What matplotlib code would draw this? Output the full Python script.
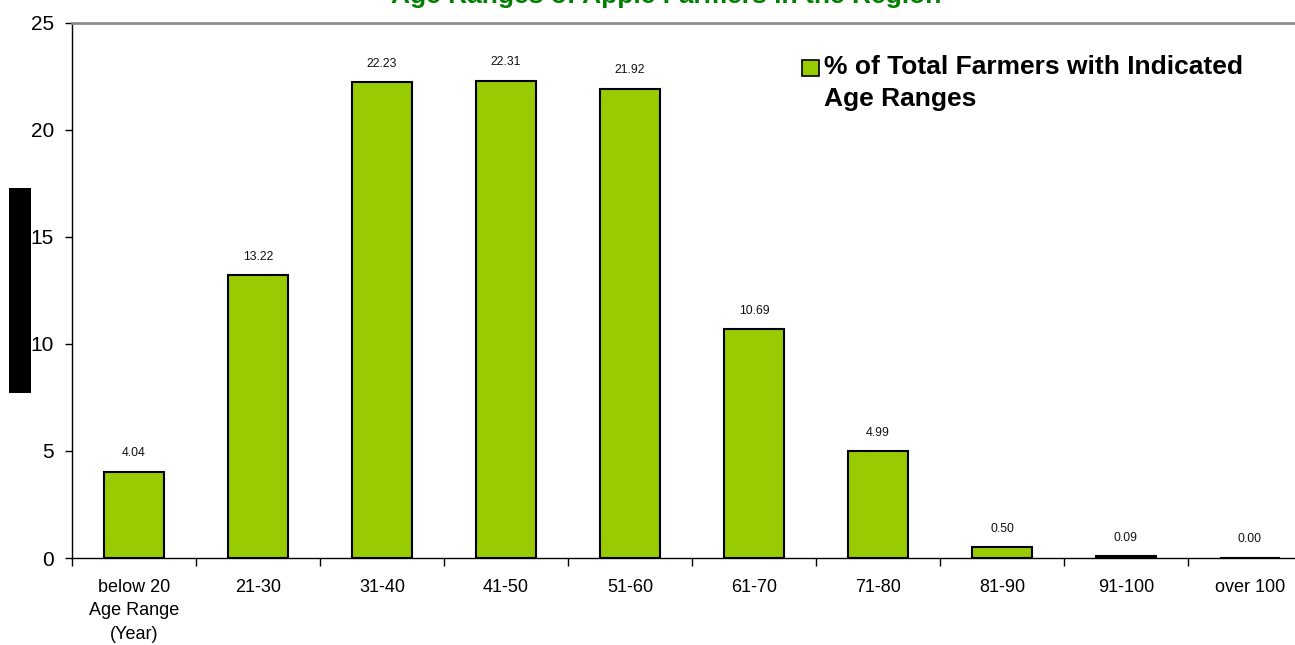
import matplotlib
matplotlib.use("Agg")
import matplotlib.pyplot as plt
from matplotlib.patches import Rectangle
import numpy as np

plt.rcParams['font.family'] = ['Liberation Sans', 'DejaVu Sans']

categories = ["below 20", "21-30", "31-40", "41-50", "51-60",
              "61-70", "71-80", "81-90", "91-100", "over 100"]
share_pct = [4.04, 13.22, 22.23, 22.31, 21.92, 10.69, 4.99, 0.50, 0.09, 0.00]
title = "Age Ranges of Apple Farmers in the Region"
legend_label = "% of Total Farmers with Indicated\nAge Ranges"
yticks = [0, 5, 10, 15, 20, 25]

W, H = 1295, 645
fig = plt.figure(figsize=(W / 100, H / 100), dpi=100)
ax = fig.add_axes([72 / W, (H - 558) / H, 1240 / W, 535 / H])

x = np.arange(len(categories))
bars = ax.bar(x, share_pct, width=0.49, color="#99CC00",
              edgecolor="black", linewidth=1.5, label=legend_label, zorder=3)

for xi, v in zip(x, share_pct):
    ax.annotate(f"{v:.2f}", (xi, v), xytext=(0, 9), textcoords="offset points",
                ha="center", va="bottom", fontsize=8.8, color="#111111")

ax.set_xlim(-0.5, len(categories) - 0.5)
ax.set_ylim(0, 25)
ax.set_yticks(yticks)
ax.set_yticklabels([str(t) for t in yticks], fontsize=15)
ax.tick_params(axis="y", length=5, width=1, pad=8, direction="out")

ax.set_xticks(x)
ax.set_xticklabels(categories, fontsize=13)
ax.tick_params(axis="x", which="major", length=0, pad=15)
ax.set_xticks(np.arange(len(categories) + 1) - 0.5, minor=True)
ax.tick_params(axis="x", which="minor", length=6, width=1, direction="out")

ax.text(0, -0.083, "Age Range\n(Year)", transform=ax.get_xaxis_transform(),
        ha="center", va="top", fontsize=13, linespacing=1.5)

for side in ("left", "bottom"):
    ax.spines[side].set_color("black")
    ax.spines[side].set_linewidth(1)
ax.spines["top"].set_color("#8c8c8c")
ax.spines["top"].set_linewidth(2)
ax.spines["right"].set_visible(False)

# legend drawn as a marker square plus bold text
fig.patches.append(Rectangle((802 / W, 1 - 76 / H), 17 / W, 16 / H,
                             transform=fig.transFigure, facecolor="#99CC00",
                             edgecolor="black", linewidth=1.2))
fig.text(824 / W, 1 - 55 / H, legend_label, ha="left", va="top",
         fontsize=19, fontweight="bold", linespacing=1.42)

# dark box on the left margin
fig.patches.append(Rectangle((9 / W, 1 - 393 / H), 22 / W, 205 / H,
                             transform=fig.transFigure, facecolor="black",
                             edgecolor="none"))

fig.text(666 / W, 1 - 3.5 / H, title, ha="center", va="baseline",
         fontsize=19, fontweight="bold", color="#008000")

fig.savefig("out.png", dpi=100)
